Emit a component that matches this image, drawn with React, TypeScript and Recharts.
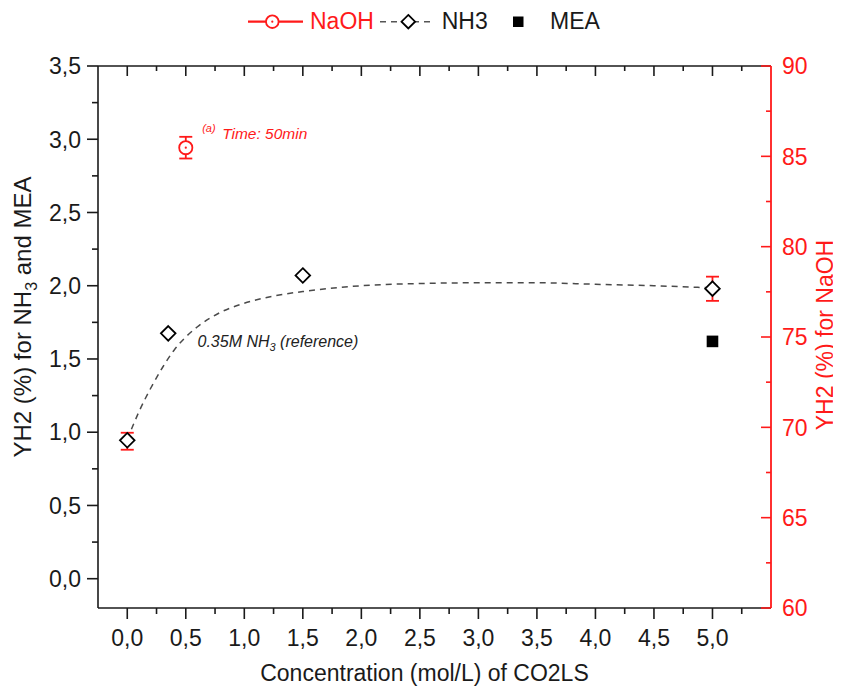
import React from 'react';
import { ComposedChart, XAxis, YAxis, Line, Scatter, ErrorBar, ReferenceDot, Label } from 'recharts';

// ---------- data ----------
const xMajorTicks = [0, 0.5, 1, 1.5, 2, 2.5, 3, 3.5, 4, 4.5, 5];
const xMinorTicks = [0.25, 0.75, 1.25, 1.75, 2.25, 2.75, 3.25, 3.75, 4.25, 4.75, 5.25];
const leftMajorTicks = [0, 0.5, 1, 1.5, 2, 2.5, 3, 3.5];
const leftMinorTicks = [0.25, 0.75, 1.25, 1.75, 2.25, 2.75, 3.25];
const rightMajorTicks = [60, 65, 70, 75, 80, 85, 90];
const rightMinorTicks = [62.5, 67.5, 72.5, 77.5, 82.5, 87.5];

const naohX = [0, 0.5, 5];
const naohY = [69.23, 85.48, 77.67];
const naohErr = [0.47, 0.6, 0.67];
const naohMarkerShown = [false, true, false];

const nh3X = [0, 0.35, 1.5, 5];
const nh3Y = [0.945, 1.675, 2.07, 1.98];

const meaX = [5];
const meaY = [1.62];

const fitX = [0, 0.1, 0.2, 0.3, 0.4, 0.5, 0.6, 0.8, 1.0, 1.25, 1.5, 2.0, 2.5, 3.0, 3.5, 4.0, 4.5, 5.0];
const fitY = [0.95, 1.14, 1.3, 1.44, 1.56, 1.65, 1.72, 1.82, 1.88, 1.93, 1.96, 2.0, 2.015, 2.02, 2.02, 2.01, 2.0, 1.985];

const annotTime = { x: 0.64, y: 3.0 };
const annotRef = { x: 0.6, y: 1.58 };

// ---------- derived tables ----------
const naohData = naohX.map((x, i) => ({ x, y: naohY[i], err: naohErr[i], shown: naohMarkerShown[i] }));
const nh3Data = nh3X.map((x, i) => ({ x, y: nh3Y[i] }));
const meaData = meaX.map((x, i) => ({ x, y: meaY[i] }));
const fitData = fitX.map((x, i) => ({ x, y: fitY[i] }));

const xTicks = [...xMajorTicks, ...xMinorTicks].sort((a, b) => a - b);
const leftTicks = [...leftMajorTicks, ...leftMinorTicks].sort((a, b) => a - b);
const rightTicks = [...rightMajorTicks, ...rightMinorTicks].sort((a, b) => a - b);

const FONT = '"Liberation Sans", Arial, sans-serif';
const INK = '#1a1a1a';
const RED = '#ff1a1a';
const FS = 23;
const TITLE_FS = 24;

const isIn = (arr: number[], v: number) => arr.some((a) => Math.abs(a - v) < 1e-9);
const fmt = (v: number) => v.toFixed(1).replace('.', ',');

const BottomTick = (props: any) => {
  const { x, y, payload } = props;
  const major = isIn(xMajorTicks, payload.value);
  return (
    <g>
      <line x1={x} x2={x} y1={y} y2={y + (major ? 11 : 6)} stroke={INK} strokeWidth={1.6} />
      {major && (
        <text x={x} y={y + 38} textAnchor="middle" fontSize={FS} fill={INK} fontFamily={FONT}>
          {fmt(payload.value)}
        </text>
      )}
    </g>
  );
};

const TopTick = (props: any) => {
  const { x, y, payload } = props;
  const major = isIn(xMajorTicks, payload.value);
  return <line x1={x} x2={x} y1={y} y2={y + (major ? 10 : 5)} stroke={INK} strokeWidth={1.6} />;
};

const LeftTick = (props: any) => {
  const { x, y, payload } = props;
  const major = isIn(leftMajorTicks, payload.value);
  return (
    <g>
      <line x1={x - (major ? 11 : 6)} x2={x} y1={y} y2={y} stroke={INK} strokeWidth={1.6} />
      {major && (
        <text x={x - 17} y={y} dy="0.36em" textAnchor="end" fontSize={FS} fill={INK} fontFamily={FONT}>
          {fmt(payload.value)}
        </text>
      )}
    </g>
  );
};

const RightTick = (props: any) => {
  const { x, y, payload } = props;
  const major = isIn(rightMajorTicks, payload.value);
  return (
    <g>
      <line x1={x - (major ? 10 : 5)} x2={x} y1={y} y2={y} stroke={RED} strokeWidth={1.6} />
      {major && (
        <text x={x + 11} y={y} dy="0.36em" textAnchor="start" fontSize={FS} fill={RED} fontFamily={FONT}>
          {String(payload.value)}
        </text>
      )}
    </g>
  );
};

const NaohShape = (props: any) => {
  const { cx, cy, payload } = props;
  if (!payload || !payload.shown) return <g />;
  return (
    <g>
      <circle cx={cx} cy={cy} r={6.6} fill="#fff" stroke={RED} strokeWidth={1.8} />
      <circle cx={cx} cy={cy} r={1.1} fill={RED} />
    </g>
  );
};

const Diamond = ({ cx, cy, s = 7.3 }: any) => (
  <path
    d={`M${cx},${cy - s} L${cx + s},${cy} L${cx},${cy + s} L${cx - s},${cy} Z`}
    fill="#fff"
    stroke="#000"
    strokeWidth={1.8}
  />
);

const NH3Shape = (props: any) => <Diamond cx={props.cx} cy={props.cy} />;

const MEAShape = (props: any) => (
  <rect x={props.cx - 5.8} y={props.cy - 5.8} width={11.6} height={11.6} fill="#000" />
);

const AnnotTimeShape = (props: any) => {
  const { cx, cy } = props;
  return (
    <g fontFamily={FONT} fontStyle="italic" fill={RED}>
      <text x={cx} y={cy - 7} fontSize={11}>(a)</text>
      <text x={cx + 20} y={cy} fontSize={15.5}>Time: 50min</text>
    </g>
  );
};

const AnnotRefShape = (props: any) => {
  const { cx, cy } = props;
  return (
    <text x={cx} y={cy} fontFamily={FONT} fontStyle="italic" fontSize={16} fill="#222">
      0.35M NH<tspan fontSize={11} dy={4}>3</tspan>
      <tspan dy={-4}> (reference)</tspan>
    </text>
  );
};

const LeftTitle = (props: any) => {
  const vb = props.viewBox || { x: 30, y: 57, width: 60, height: 542 };
  const cx = vb.x - 16;
  const cy = vb.y + vb.height / 2 - 20;
  return (
    <text
      x={cx}
      y={cy}
      transform={`rotate(-90, ${cx}, ${cy})`}
      textAnchor="middle"
      dy="0.36em"
      fontSize={TITLE_FS}
      fill={INK}
      fontFamily={FONT}
    >
      YH2 (%) for NH<tspan fontSize={16} dy={6}>3</tspan>
      <tspan dy={-6}> and MEA</tspan>
    </text>
  );
};

const RightTitle = (props: any) => {
  const vb = props.viewBox || { x: 763, y: 57, width: 50, height: 542 };
  const cx = vb.x + 54;
  const cy = vb.y + vb.height / 2 - 2;
  return (
    <text
      x={cx}
      y={cy}
      transform={`rotate(-90, ${cx}, ${cy})`}
      textAnchor="middle"
      dy="0.36em"
      fontSize={23}
      fill={RED}
      fontFamily={FONT}
    >
      YH2 (%) for NaOH
    </text>
  );
};

const BottomTitle = (props: any) => {
  const vb = props.viewBox || { x: 90, y: 600, width: 673, height: 48 };
  const cx = vb.x + vb.width / 2 - 10;
  return (
    <text x={cx} y={673} textAnchor="middle" fontSize={FS} fill={INK} fontFamily={FONT}>
      Concentration (mol/L) of CO2LS
    </text>
  );
};

const LegendOverlay = () => (
  <svg
    width={833}
    height={45}
    style={{ position: 'absolute', left: 0, top: 0, pointerEvents: 'none' }}
    fontFamily={FONT}
  >
    <line x1={240} x2={295} y1={13.7} y2={13.7} stroke={RED} strokeWidth={2.2} />
    <circle cx={264.3} cy={13.7} r={6.3} fill="#fff" stroke={RED} strokeWidth={1.8} />
    <circle cx={264.3} cy={13.7} r={1.1} fill={RED} />
    <text x={302} y={20.5} fontSize={FS} fill={RED}>NaOH</text>
    <line x1={372} x2={427} y1={13.7} y2={13.7} stroke="#555" strokeWidth={1.5} strokeDasharray="6 5" />
    <Diamond cx={400.3} cy={13.7} s={6.8} />
    <text x={433.7} y={20.5} fontSize={FS} fill={INK}>NH3</text>
    <rect x={505} y={8.5} width={10.5} height={10.5} fill="#000" />
    <text x={542} y={20.5} fontSize={FS} fill={INK}>MEA</text>
  </svg>
);

export default function App() {
  return (
    <div style={{ position: 'relative', width: 833, height: 678, fontFamily: FONT }}>
      <ComposedChart width={833} height={678} margin={{ top: 57, right: 20, bottom: 30, left: 30 }}>
        <XAxis
          xAxisId={0}
          dataKey="x"
          type="number"
          domain={[-0.25, 5.5]}
          allowDataOverflow
          ticks={xTicks}
          interval={0}
          tick={<BottomTick />}
          tickLine={false}
          tickSize={0}
          tickMargin={0}
          height={48}
          axisLine={{ stroke: INK, strokeWidth: 1.6 }}
        >
          <Label content={<BottomTitle />} />
        </XAxis>
        <XAxis
          xAxisId="top"
          orientation="top"
          dataKey="x"
          type="number"
          domain={[-0.25, 5.5]}
          allowDataOverflow
          ticks={xTicks}
          interval={0}
          tick={<TopTick />}
          tickLine={false}
          tickSize={0}
          tickMargin={0}
          height={1}
          axisLine={{ stroke: INK, strokeWidth: 1.6 }}
        />
        <YAxis
          yAxisId="left"
          type="number"
          domain={[-0.2, 3.5]}
          allowDataOverflow
          ticks={leftTicks}
          interval={0}
          tick={<LeftTick />}
          tickLine={false}
          tickSize={0}
          tickMargin={0}
          width={60}
          axisLine={{ stroke: INK, strokeWidth: 1.6 }}
        >
          <Label content={<LeftTitle />} />
        </YAxis>
        <YAxis
          yAxisId="right"
          orientation="right"
          type="number"
          domain={[60, 90]}
          allowDataOverflow
          ticks={rightTicks}
          interval={0}
          tick={<RightTick />}
          tickLine={false}
          tickSize={0}
          tickMargin={0}
          width={50}
          axisLine={{ stroke: RED, strokeWidth: 1.8 }}
        >
          <Label content={<RightTitle />} />
        </YAxis>

        <Line
          data={fitData}
          dataKey="y"
          xAxisId={0}
          yAxisId="left"
          type="monotone"
          stroke="#4a4a4a"
          strokeWidth={1.5}
          strokeDasharray="6 5"
          dot={false}
          activeDot={false}
          isAnimationActive={false}
        />
        <Scatter
          data={naohData}
          dataKey="y"
          xAxisId={0}
          yAxisId="right"
          shape={NaohShape}
          isAnimationActive={false}
        >
          <ErrorBar dataKey="err" direction="y" width={6.5} stroke={RED} strokeWidth={1.8} />
        </Scatter>
        <Scatter
          data={nh3Data}
          dataKey="y"
          xAxisId={0}
          yAxisId="left"
          shape={NH3Shape}
          isAnimationActive={false}
        />
        <Scatter
          data={meaData}
          dataKey="y"
          xAxisId={0}
          yAxisId="left"
          shape={MEAShape}
          isAnimationActive={false}
        />
        <ReferenceDot
          x={annotTime.x}
          y={annotTime.y}
          xAxisId={0}
          yAxisId="left"
          r={1}
          shape={AnnotTimeShape}
        />
        <ReferenceDot
          x={annotRef.x}
          y={annotRef.y}
          xAxisId={0}
          yAxisId="left"
          r={1}
          shape={AnnotRefShape}
        />
      </ComposedChart>
      <LegendOverlay />
    </div>
  );
}
